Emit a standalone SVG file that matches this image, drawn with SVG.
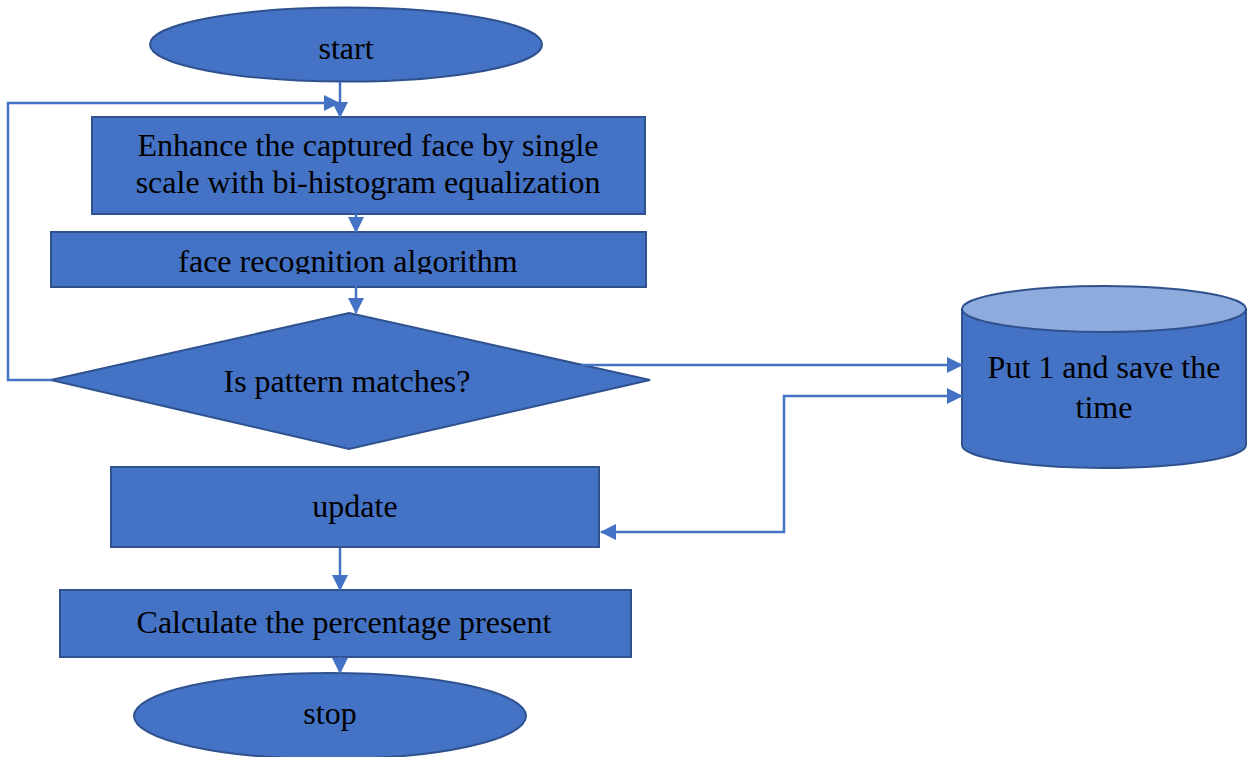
<svg xmlns="http://www.w3.org/2000/svg" width="1248" height="757" viewBox="0 0 1248 757">
<style>
.n{fill:#4472C4;stroke:#2F528F;stroke-width:2}
.top{fill:#8FAADC;stroke:#2F528F;stroke-width:2}
.t{font-family:"Liberation Serif","Times New Roman",serif;font-size:32px;fill:#000;text-anchor:middle}
.c{fill:none;stroke:#4472C4;stroke-width:2.5}
</style>
<defs>
<marker id="ah" markerUnits="userSpaceOnUse" markerWidth="16" markerHeight="16" viewBox="0 0 16 16" refX="15" refY="8" orient="auto-start-reverse">
<path d="M0,0 L16,8 L0,16 Z" fill="#4472C4"/>
</marker>
<clipPath id="clipFace"><rect x="51" y="232" width="595" height="42"/></clipPath>
</defs>
<rect width="1248" height="757" fill="#fff"/>
<g id="start"><ellipse class="n" cx="346" cy="44.5" rx="196" ry="37"/><text class="t" x="346" y="59">start</text></g>
<g id="enhance"><rect class="n" x="92" y="117" width="553" height="97"/><text class="t" x="368" y="156">Enhance the captured face by single</text><text class="t" x="368" y="193">scale with bi-histogram equalization</text></g>
<g id="face"><rect class="n" x="51" y="232" width="595" height="55"/><text class="t" x="348" y="272" clip-path="url(#clipFace)">face recognition algorithm</text></g>
<g id="decision"><polygon class="n" points="349,313 650,380 349,449 51,380"/><text class="t" x="347" y="392">Is pattern matches?</text></g>
<g id="store"><path class="n" d="M962,309 L962,445 A142,23 0 0 0 1246,445 L1246,309 Z"/><ellipse class="top" cx="1104" cy="309" rx="142" ry="23"/><text class="t" x="1104" y="378">Put 1 and save the</text><text class="t" x="1104" y="418">time</text></g>
<g id="update"><rect class="n" x="111" y="467" width="488" height="80"/><text class="t" x="355" y="517">update</text></g>
<g id="calc"><rect class="n" x="60" y="590" width="571" height="67"/><text class="t" x="344" y="633">Calculate the percentage present</text></g>
<g id="stop"><ellipse class="n" cx="330" cy="716" rx="196" ry="43"/><text class="t" x="330" y="724">stop</text></g>
<g id="connectors">
<path class="c" d="M340,82 L340,117" marker-end="url(#ah)"/>
<path class="c" d="M52,380 L8,380 L8,103 L339,103" marker-end="url(#ah)"/>
<path class="c" d="M356,214 L356,232" marker-end="url(#ah)"/>
<path class="c" d="M356,268 L356,313" marker-end="url(#ah)"/>
<path class="c" d="M581,365 L962,365" marker-end="url(#ah)"/>
<path class="c" d="M601,532 L784,532 L784,396 L962,396" marker-start="url(#ah)" marker-end="url(#ah)"/>
<path class="c" d="M340,548 L340,590" marker-end="url(#ah)"/>
<path class="c" d="M340,657 L340,673" marker-end="url(#ah)"/>
</g>
</svg>
